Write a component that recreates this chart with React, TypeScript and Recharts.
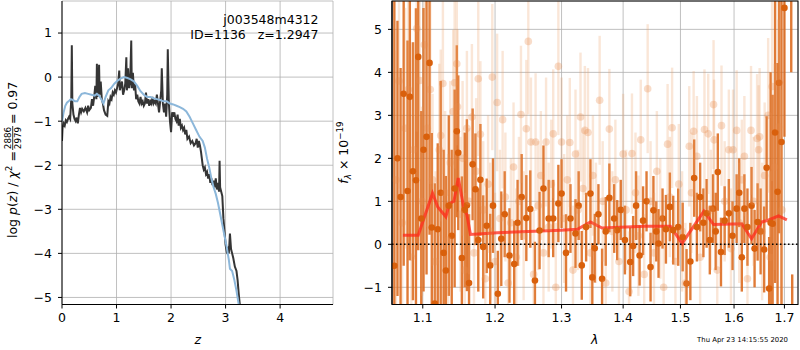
import React from "react";
import {
  CartesianGrid,
  ComposedChart,
  ErrorBar,
  Line,
  ReferenceLine,
  Scatter,
  XAxis,
  YAxis,
} from "recharts";

const FONT = "DejaVu Sans, Verdana, sans-serif";
const FS = 12.5;

// left panel: [z, log p(z)]
const pzFit: [number, number][] = [
  [0.0, -1.45], [0.01, -1.15], [0.03, -1.05], [0.05, -1.1], [0.07, -0.98], [0.09, -1.02],
  [0.11, -0.95], [0.13, -0.9], [0.15, -0.95], [0.17, -0.5], [0.18, 0.72], [0.19, -0.6],
  [0.21, -0.85], [0.23, -0.95], [0.25, -1.0], [0.27, -0.92], [0.29, -1.05], [0.31, -0.85],
  [0.33, -0.7], [0.35, -0.8], [0.37, -0.72], [0.4, -0.78], [0.43, -0.7], [0.46, -0.8],
  [0.48, -0.65], [0.5, -0.75], [0.53, -0.7], [0.55, -0.5], [0.57, -0.65], [0.59, -0.45],
  [0.61, -0.2], [0.63, -0.5], [0.64, 0.3], [0.65, -0.45], [0.67, -0.3], [0.68, 0.28],
  [0.69, -0.4], [0.71, -0.1], [0.73, -0.5], [0.75, -0.6], [0.77, -0.75], [0.8, -0.85],
  [0.83, -0.88], [0.85, -0.55], [0.87, -0.6], [0.89, -0.45], [0.91, -0.5], [0.93, -0.35],
  [0.95, -0.4], [0.97, -0.3], [0.99, -0.35], [1.01, -0.25], [1.03, -0.15], [1.05, 0.15],
  [1.06, -0.3], [1.08, -0.2], [1.1, -0.1], [1.12, -0.4], [1.14, -0.3], [1.16, -0.15],
  [1.18, 0.45], [1.19, -0.3], [1.21, 0.2], [1.23, -0.25], [1.25, -0.1], [1.27, 0.83],
  [1.28, -0.25], [1.3, 0.1], [1.32, -0.3], [1.34, -0.15], [1.36, -0.5], [1.38, -0.4],
  [1.4, -0.55], [1.42, -0.6], [1.44, -0.45], [1.46, -0.6], [1.48, -0.55], [1.5, -0.65],
  [1.52, -0.6], [1.54, -0.35], [1.56, -0.6], [1.58, -0.5], [1.6, -0.65], [1.62, -0.55],
  [1.64, -0.6], [1.66, -0.45], [1.68, -0.6], [1.7, -0.55], [1.72, -0.6], [1.74, -0.4],
  [1.76, -0.6], [1.78, -0.8], [1.8, -0.55], [1.82, -0.3], [1.83, 0.2], [1.85, -0.6],
  [1.87, -0.8], [1.89, -0.6], [1.91, -0.9], [1.93, -0.4], [1.94, 0.63], [1.96, -0.6],
  [1.98, -1.0], [2.0, -1.25], [2.02, -0.8], [2.04, -0.9], [2.06, -0.8], [2.08, -0.95],
  [2.1, -1.0], [2.12, -0.85], [2.14, -1.1], [2.16, -0.95], [2.18, -1.15], [2.2, -1.1],
  [2.22, -1.2], [2.24, -1.15], [2.26, -1.3], [2.28, -1.2], [2.3, -1.4], [2.33, -1.35],
  [2.36, -1.5], [2.39, -1.45], [2.42, -1.55], [2.45, -1.5], [2.47, -1.4], [2.49, -1.6],
  [2.51, -1.45], [2.53, -1.55], [2.55, -1.7], [2.58, -2.0], [2.6, -2.1], [2.62, -2.05],
  [2.64, -2.2], [2.66, -2.15], [2.68, -2.3], [2.7, -2.2], [2.72, -2.4], [2.74, -2.3],
  [2.76, -2.45], [2.78, -2.35], [2.8, -2.5], [2.82, -2.3], [2.84, -2.55], [2.86, -2.4],
  [2.88, -2.6], [2.89, -1.9], [2.9, -2.5], [2.92, -2.6], [2.94, -2.7], [2.96, -3.2],
  [2.98, -3.5], [3.0, -3.8], [3.02, -3.95], [3.04, -3.9], [3.06, -4.0], [3.08, -3.55],
  [3.1, -3.9], [3.12, -4.0], [3.14, -4.1], [3.17, -4.3], [3.2, -4.4], [3.22, -4.6],
  [3.24, -4.9], [3.26, -5.15], [3.3, -5.6],
];

const pzTemplate: [number, number][] = [
  [0.0, -1.0], [0.03, -0.8], [0.06, -0.65], [0.09, -0.58], [0.12, -0.55], [0.16, -0.5],
  [0.2, -0.52], [0.24, -0.55], [0.28, -0.55], [0.32, -0.45], [0.36, -0.38], [0.42, -0.36],
  [0.48, -0.38], [0.54, -0.4], [0.6, -0.42], [0.64, -0.38], [0.68, -0.42], [0.72, -0.5],
  [0.76, -0.6], [0.8, -0.45], [0.85, -0.3], [0.9, -0.25], [0.96, -0.15], [1.02, -0.08],
  [1.08, -0.03], [1.14, 0.0], [1.2, -0.02], [1.26, -0.05], [1.32, -0.1], [1.38, -0.2],
  [1.44, -0.32], [1.5, -0.4], [1.56, -0.45], [1.62, -0.45], [1.68, -0.48], [1.74, -0.5],
  [1.8, -0.52], [1.86, -0.55], [1.92, -0.55], [1.98, -0.6], [2.04, -0.62], [2.1, -0.65],
  [2.16, -0.68], [2.22, -0.72], [2.28, -0.78], [2.34, -0.9], [2.4, -1.05], [2.46, -1.2],
  [2.52, -1.35], [2.58, -1.45], [2.62, -1.6], [2.66, -1.85], [2.7, -2.05], [2.74, -2.3],
  [2.78, -2.5], [2.82, -2.65], [2.86, -2.85], [2.9, -3.1], [2.94, -3.35], [2.98, -3.6],
  [3.02, -3.85], [3.06, -4.15], [3.08, -4.35], [3.12, -4.4], [3.16, -4.6], [3.2, -4.85],
  [3.24, -5.15], [3.28, -5.5],
];

const zTicks = [0, 1, 2, 3, 4];
const logpTicks = [-5, -4, -3, -2, -1, 0, 1];

// right panel
const lamTicks = [1.1, 1.2, 1.3, 1.4, 1.5, 1.6, 1.7];
const fluxTicks = [-1, 0, 1, 2, 3, 4, 5];

// [lambda, flux, err] strong beam
const specMain: [number, number, number][] = [
  [1.063, -0.5, 6.5], [1.067, 2.0, 3.2], [1.071, 1.1, 3.0], [1.075, 3.5, 4.0], [1.08, 1.24, 3.5],
  [1.083, 3.43, 3.8], [1.087, 1.7, 3.0], [1.091, 1.49, 4.0], [1.094, 4.36, 4.5], [1.098, 0.6, 2.5],
  [1.101, 2.2, 3.3], [1.105, 2.5, 3.2], [1.109, 4.22, 4.0], [1.112, 0.39, 2.2], [1.116, -1.38, 2.8],
  [1.12, 0.35, 2.0], [1.124, 1.2, 2.6], [1.128, -0.2, 2.4], [1.131, -0.61, 2.2], [1.135, 0.9, 2.1],
  [1.139, 0.2, 2.0], [1.143, 1.3, 2.3], [1.146, 2.63, 2.0], [1.148, 2.13, 1.8], [1.153, -0.32, 1.9],
  [1.157, 0.8, 1.8], [1.16, 0.91, 2.0], [1.163, -0.9, 1.6], [1.168, 1.86, 1.3], [1.172, 1.28, 1.3],
  [1.176, 0.1, 1.2], [1.179, 1.5, 1.3], [1.183, -0.06, 1.2], [1.188, 0.43, 1.1], [1.193, -0.49, 1.2],
  [1.197, 0.9, 1.1], [1.204, -1.15, 1.0], [1.209, 0.13, 1.1], [1.214, 0.7, 1.0], [1.221, -0.26, 1.1],
  [1.228, -0.46, 1.0], [1.233, 0.5, 1.0], [1.239, 1.1, 1.0], [1.246, 0.61, 1.0], [1.252, 0.82, 0.9],
  [1.259, -0.84, 0.9], [1.266, 0.32, 0.9], [1.272, 1.3, 1.0], [1.28, 0.6, 0.9], [1.287, 0.6, 0.9],
  [1.295, 0.95, 0.9], [1.3, 1.18, 0.8], [1.307, -0.2, 0.9], [1.314, 0.6, 0.8], [1.322, 0.25, 0.8],
  [1.327, 0.9, 0.8], [1.332, -0.49, 0.8], [1.339, 0.4, 0.8], [1.346, 1.18, 0.8], [1.349, -0.77, 0.8],
  [1.353, -0.09, 0.8], [1.359, 0.7, 0.7], [1.365, -0.8, 0.7], [1.371, 0.3, 0.8], [1.377, 1.08, 0.8],
  [1.385, 0.6, 0.8], [1.39, 0.33, 0.7], [1.396, 0.8, 0.7], [1.403, 0.1, 0.8], [1.412, -0.41, 0.8],
  [1.417, -0.04, 0.7], [1.422, 0.9, 0.8], [1.428, -0.26, 0.7], [1.434, 0.55, 0.8], [1.44, 1.0, 0.7],
  [1.447, -0.53, 0.8], [1.452, 0.79, 0.8], [1.457, 0.3, 0.7], [1.461, 0.02, 0.8], [1.468, 0.6, 0.7],
  [1.474, 0.35, 0.8], [1.481, 0.87, 0.8], [1.487, 0.33, 0.8], [1.496, 0.4, 0.9], [1.504, 0.17, 0.8],
  [1.511, -0.91, 0.8], [1.518, -0.4, 0.9], [1.525, 1.54, 0.9], [1.53, 0.4, 0.8], [1.536, 1.1, 0.8],
  [1.542, 0.5, 0.8], [1.548, 0.72, 0.8], [1.554, 0.1, 0.8], [1.56, 0.83, 0.8], [1.565, 0.3, 0.9],
  [1.569, 1.68, 0.9], [1.575, -0.18, 0.8], [1.582, 0.55, 0.8], [1.59, 0.72, 0.8], [1.597, 0.2, 0.8],
  [1.605, 0.83, 0.8], [1.61, 1.2, 0.8], [1.615, -0.3, 0.8], [1.62, 0.83, 0.8], [1.626, 0.4, 0.9],
  [1.634, 0.9, 0.9], [1.64, -0.1, 0.9], [1.646, 0.52, 0.9], [1.652, 0.3, 1.0], [1.659, -0.12, 1.0],
  [1.664, 1.78, 1.2], [1.669, -1.03, 1.2], [1.672, 0.5, 3.5], [1.676, 0.48, 3.0], [1.681, 2.6, 3.5],
  [1.686, 1.22, 3.0], [1.689, 3.76, 3.5], [1.694, 2.38, 4.0], [1.7, 5.5, 3.0], [1.714, 7.0, 3.0],
  [1.716, -3.0, 2.3],
];

// [lambda, flux, err] weak beam
const specAlt: [number, number, number][] = [
  [1.065, 1.5, 3.0], [1.069, 3.8, 2.5], [1.073, 0.5, 2.5], [1.077, 2.7, 2.8], [1.081, 3.6, 2.6],
  [1.085, -0.3, 2.4], [1.088, 2.2, 2.5], [1.092, 5.02, 2.4], [1.096, 3.81, 2.3], [1.099, 1.0, 2.2],
  [1.102, 4.64, 2.2], [1.106, 2.7, 2.3], [1.11, 3.6, 2.2], [1.113, 1.5, 2.0], [1.117, -0.4, 2.1],
  [1.122, 2.2, 2.0], [1.124, 2.53, 2.0], [1.127, 3.74, 2.1], [1.13, 1.2, 1.9], [1.134, 0.1, 2.0],
  [1.137, 1.9, 1.9], [1.141, 3.09, 1.9], [1.143, 3.76, 2.0], [1.146, 4.2, 1.9], [1.147, 3.2, 1.8],
  [1.151, 0.7, 1.8], [1.154, 2.0, 1.8], [1.157, -0.6, 1.8], [1.16, 2.7, 1.8], [1.163, 1.0, 1.7],
  [1.167, 2.96, 1.7], [1.17, -0.2, 1.7], [1.173, 1.7, 1.7], [1.176, 3.85, 1.8], [1.179, 2.56, 1.7],
  [1.183, 0.8, 1.6], [1.186, -0.8, 1.7], [1.19, 1.4, 1.6], [1.193, 0.3, 1.6], [1.196, 3.89, 1.7],
  [1.2, -0.4, 1.6], [1.203, 3.3, 1.6], [1.207, 0.6, 1.6], [1.211, 2.9, 1.6], [1.215, 1.1, 1.5],
  [1.219, -0.9, 1.6], [1.223, 0.5, 1.5], [1.227, 1.8, 1.5], [1.231, -0.3, 1.6], [1.235, 1.0, 1.5],
  [1.238, 3.02, 1.6], [1.242, 0.2, 1.5], [1.246, 2.69, 1.6], [1.249, 4.72, 1.7], [1.253, 2.38, 1.5],
  [1.257, -0.7, 1.5], [1.26, 2.38, 1.6], [1.264, 0.9, 1.5], [1.268, 1.6, 1.5], [1.272, -0.2, 1.5],
  [1.276, 2.38, 1.5], [1.28, 0.4, 1.5], [1.284, 1.4, 1.5], [1.287, 2.57, 1.5], [1.291, -1.0, 1.5],
  [1.295, 4.14, 1.6], [1.3, 2.38, 1.5], [1.304, 0.6, 1.5], [1.309, 1.5, 1.5], [1.313, 2.37, 1.5],
  [1.318, -0.6, 1.5], [1.322, 2.1, 1.5], [1.326, 0.8, 1.4], [1.33, 2.96, 1.5], [1.334, 1.3, 1.4],
  [1.337, 2.65, 1.5], [1.342, 2.6, 1.5], [1.346, -0.2, 1.4], [1.35, 1.6, 1.4], [1.355, 0.5, 1.4],
  [1.361, 3.35, 1.5], [1.366, 1.0, 1.4], [1.371, -0.9, 1.4], [1.377, 2.68, 1.4], [1.382, 0.3, 1.4],
  [1.387, 1.5, 1.4], [1.393, -0.4, 1.4], [1.4, 2.1, 1.4], [1.405, 0.8, 1.4], [1.41, -1.1, 1.4],
  [1.415, 2.11, 1.4], [1.421, 1.2, 1.4], [1.426, 0.2, 1.4], [1.43, 2.43, 1.4], [1.436, -0.7, 1.4],
  [1.442, 3.62, 1.5], [1.447, 1.0, 1.4], [1.453, -0.2, 1.4], [1.458, 1.7, 1.4], [1.464, 0.6, 1.4],
  [1.47, -1.0, 1.4], [1.477, 2.33, 1.4], [1.481, 1.1, 1.4], [1.485, 2.71, 1.4], [1.491, -0.4, 1.4],
  [1.497, 1.4, 1.4], [1.503, 0.3, 1.4], [1.509, -0.9, 1.4], [1.516, 2.28, 1.4], [1.52, 1.2, 1.4],
  [1.524, 2.63, 1.4], [1.53, 2.05, 1.4], [1.536, -0.3, 1.4], [1.544, 2.67, 1.4], [1.551, 2.57, 1.4],
  [1.556, 0.8, 1.4], [1.561, 3.25, 1.5], [1.562, 2.43, 1.4], [1.568, -0.6, 1.4], [1.576, 2.76, 1.4],
  [1.582, 1.0, 1.4], [1.59, 2.2, 1.4], [1.594, -0.1, 1.4], [1.598, 2.2, 1.4], [1.605, 2.65, 1.4],
  [1.61, 0.5, 1.4], [1.615, 1.5, 1.4], [1.62, 2.05, 1.4], [1.626, -0.8, 1.5], [1.633, 2.65, 1.5],
  [1.638, 1.0, 1.5], [1.645, 2.46, 1.5], [1.648, 2.2, 1.5], [1.65, 2.5, 1.6], [1.655, 0.3, 1.6],
  [1.66, 1.6, 1.7], [1.667, 3.0, 1.8], [1.671, -0.3, 2.0], [1.675, 3.67, 2.2], [1.68, 1.8, 2.4],
  [1.688, 2.73, 2.5], [1.69, 3.77, 2.6], [1.695, 0.8, 2.8],
];

// [lambda, flux] best-fit model
const specModel: [number, number][] = [
  [1.074, 0.21], [1.094, 0.21], [1.113, 1.19], [1.12, 0.87], [1.131, 0.64], [1.136, 0.95],
  [1.142, 1.0], [1.148, 1.54], [1.156, 0.82], [1.16, 0.69], [1.165, 0.23], [1.203, 0.27],
  [1.299, 0.33], [1.325, 0.35], [1.346, 0.52], [1.365, 0.38], [1.436, 0.42], [1.482, 0.42],
  [1.503, 0.02], [1.543, 0.77], [1.561, 0.46], [1.615, 0.48], [1.634, 0.13], [1.654, 0.52],
  [1.667, 0.56], [1.688, 0.66], [1.705, 0.57],
];

const xy = (a: [number, number][]) => a.map(([x, y]) => ({ x, y }));
const xye = (a: [number, number, number][]) => a.map(([x, y, err]) => ({ x, y, err }));

const minus = (v: number) => (v < 0 ? "\u2212" + Math.abs(v) : String(v));
const tick = { fill: "#000", fontSize: FS, fontFamily: FONT };

const dot = (r: number, fill: string) => (p: any) =>
  p.cx == null ? <g /> : <circle cx={p.cx} cy={p.cy} r={r} fill={fill} />;

// spectrum plot box in page pixels
const SX = 392;
const SY = 1;
const SW = 406;
const SH = 303.5;

const lamDom: [number, number] = [1.06, 1.728];
const fluxDom: [number, number] = [-1.4, 5.66];

function PzPanel() {
  const dom: [number, number] = [0, 4.97];
  const ydom: [number, number] = [-5.16, 1.727];
  return (
    <ComposedChart width={340} height={350} margin={{ top: 1, right: 7, bottom: 15.5, left: 0 }}>
      <CartesianGrid stroke="#b0b0b0" strokeWidth={0.8} />
      <XAxis type="number" dataKey="x" domain={dom} ticks={zTicks} allowDataOverflow height={30}
        tickSize={4} tickMargin={5} tick={tick} stroke="#000" tickFormatter={minus} />
      <XAxis xAxisId="top" orientation="top" type="number" dataKey="x" domain={dom} height={0}
        tick={false} tickLine={false} stroke="#000" />
      <YAxis type="number" domain={ydom} ticks={logpTicks} allowDataOverflow width={62}
        tickSize={4} tickMargin={6} tick={tick} stroke="#000" tickFormatter={minus} />
      <YAxis yAxisId="right" orientation="right" type="number" domain={ydom} width={0}
        tick={false} tickLine={false} stroke="#000" />
      <Line data={xy(pzFit)} dataKey="y" stroke="#353535" strokeWidth={2} dot={false}
        isAnimationActive={false} />
      <Line data={xy(pzTemplate)} dataKey="y" stroke="#8cb7da" strokeWidth={2} dot={false}
        isAnimationActive={false} />
    </ComposedChart>
  );
}

// axes, ticks and grid of the spectrum panel (no data)
function SpecAxes() {
  return (
    <ComposedChart width={460} height={350} margin={{ top: 1, right: 2, bottom: 15.5, left: 0 }}>
      <CartesianGrid stroke="#b0b0b0" strokeWidth={0.8} />
      <XAxis type="number" dataKey="x" scale="log" domain={lamDom} ticks={lamTicks} allowDataOverflow
        height={30} tickSize={4} tickMargin={5} tick={tick} stroke="#000"
        tickFormatter={(v: number) => v.toFixed(1)} />
      <YAxis type="number" domain={fluxDom} ticks={fluxTicks} allowDataOverflow width={52}
        tickSize={4} tickMargin={6} tick={tick} stroke="#000" tickFormatter={minus} />
      <Line data={[]} dataKey="y" isAnimationActive={false} />
    </ComposedChart>
  );
}

// data layer, sized exactly to the plot box so everything outside is clipped
function SpecData() {
  return (
    <ComposedChart width={SW} height={SH} margin={{ top: 0, right: 0, bottom: 0, left: 0 }}>
      <XAxis hide type="number" dataKey="x" scale="log" domain={lamDom} allowDataOverflow />
      <YAxis hide type="number" domain={fluxDom} allowDataOverflow />
      <Scatter data={xye(specMain)} dataKey="y" shape={dot(3.3, "#d9600c")} isAnimationActive={false}>
        <ErrorBar dataKey="err" direction="y" width={0} stroke="rgba(219,100,20,0.85)" strokeWidth={2.4} />
      </Scatter>
      <Scatter data={xye(specAlt)} dataKey="y" shape={dot(3.8, "rgba(232,140,75,0.3)")}
        isAnimationActive={false}>
        <ErrorBar dataKey="err" direction="y" width={0} stroke="rgba(235,154,94,0.25)" strokeWidth={2.4} />
      </Scatter>
      <Line data={xy(specModel)} dataKey="y" stroke="rgba(255,40,25,0.75)" strokeWidth={3}
        dot={false} isAnimationActive={false} />
      <ReferenceLine y={0} stroke="#000" strokeWidth={1.5} strokeDasharray="1.5 2.5" />
    </ComposedChart>
  );
}

export default function App() {
  return (
    <div style={{ position: "absolute", left: 0, top: 0, width: 800, height: 350, background: "#fff" }}>
      <div style={{ position: "absolute", left: 0, top: 0 }}>
        <PzPanel />
      </div>
      <div style={{ position: "absolute", left: 340, top: 0 }}>
        <SpecAxes />
      </div>
      <div style={{ position: "absolute", left: SX, top: SY, width: SW, height: SH, overflow: "hidden" }}>
        <SpecData />
      </div>
      <svg width={800} height={350} style={{ position: "absolute", left: 0, top: 0, pointerEvents: "none" }}
        fontFamily={FONT} fontSize={FS} fill="#000">
        <rect x={SX} y={SY} width={SW} height={SH} fill="none" stroke="#000" strokeWidth={1} />
        <text x={318.5} y={24} textAnchor="end">j003548m4312</text>
        <text x={318.5} y={38.5} textAnchor="end">{"ID=1136\u00a0\u00a0\u00a0z=1.2947"}</text>
        <g transform="translate(17,238) rotate(-90)">
          <text x={0} y={0}>
            log <tspan fontStyle="italic">p</tspan>(<tspan fontStyle="italic">z</tspan>) / <tspan fontStyle="italic">χ</tspan>
            <tspan dy={-5} fontSize={8.75}>2</tspan>
            <tspan dy={5}>{"\u00a0=\u00a0"}</tspan>
          </text>
          <text x={100} y={-6} fontSize={8.75} textAnchor="middle">2886</text>
          <line x1={88} x2={112} y1={-4.3} y2={-4.3} stroke="#000" strokeWidth={0.8} />
          <text x={100} y={3.9} fontSize={8.75} textAnchor="middle">2979</text>
          <text x={114} y={0}>{"=\u00a00.97"}</text>
        </g>
        <g transform="translate(348,152.5) rotate(-90)">
          <text x={0} y={0} textAnchor="middle">
            <tspan fontStyle="italic">f</tspan>
            <tspan dy={3} fontSize={8.75} fontStyle="italic">λ</tspan>
            <tspan dy={-3}>{"\u00a0×\u00a010"}</tspan>
            <tspan dy={-5} fontSize={8.75}>−19</tspan>
          </text>
        </g>
        <text x={197.7} y={344} textAnchor="middle" fontStyle="italic">z</text>
        <text x={594.7} y={344} textAnchor="middle" fontStyle="italic">λ</text>
        <text x={788} y={341.5} textAnchor="end" fontSize={6.9}>Thu Apr 23 14:15:55 2020</text>
      </svg>
    </div>
  );
}
